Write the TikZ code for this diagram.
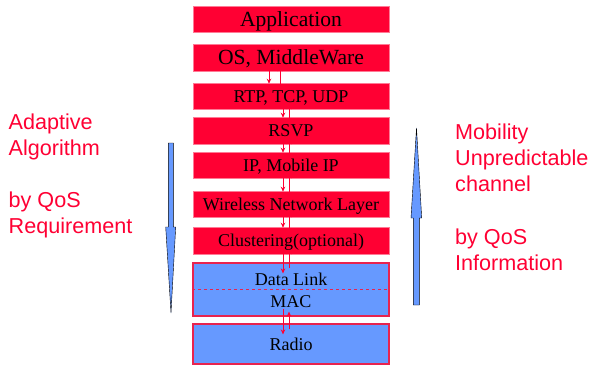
\documentclass[tikz,border=0pt]{standalone}
\usepackage{fontspec}
\setmainfont{Liberation Serif}
\newfontfamily\labelfont{Liberation Sans}
\usetikzlibrary{arrows.meta}

\definecolor{layerred}{HTML}{FF0033}
\definecolor{layerblue}{HTML}{6699FF}
\definecolor{edgepink}{HTML}{FF7A95}
\definecolor{edgered}{HTML}{E8234F}

\tikzset{
  layer/.style={fill=layerred, draw=edgepink, line width=0.6pt, minimum width=196pt,
    inner sep=0pt, font=\fontsize{18}{20}\selectfont, text height=12pt, text depth=0pt},
  biglayer/.style={layer, font=\fontsize{21.6}{24}\selectfont, text height=14.3pt},
  phylayer/.style={layer, fill=layerblue, draw=edgered, line width=1.2pt},
  flow/.style={color=layerred, line width=1pt, -{Stealth[length=5pt,width=4.5pt]}},
  bigarrow/.style={fill=layerblue, draw=black, line width=0.4pt},
  side/.style={text=layerred, font=\labelfont\fontsize{21.6}{26}\selectfont,
    anchor=base west, inner sep=0pt}
}

\begin{document}
\begin{tikzpicture}[x=1pt, y=-1pt]
  \useasboundingbox (0,0) rectangle (592,365);

  % protocol stack
  \node[biglayer, minimum height=26pt] (app) at (291,19) {Application};
  \node[biglayer, minimum height=27pt] (os) at (291,57.5) {OS, MiddleWare};
  \node[layer, minimum height=26pt] (rtp) at (291,96) {RTP, TCP, UDP};
  \node[layer, minimum height=27pt] (rsvp) at (291,130.5) {RSVP};
  \node[layer, minimum height=26pt] (ip) at (291,165) {IP, Mobile IP};
  \node[layer, minimum height=26pt] (wnl) at (291,204) {Wireless Network Layer};
  \node[layer, minimum height=27pt] (clus) at (291,240.5) {Clustering(optional)};
  \node[phylayer, minimum height=53pt] (dlmac) at (291,289.5) {};
  \node[phylayer, minimum height=40pt] (radio) at (291,344) {Radio};

  \draw[edgered, dashed, line width=0.8pt] (dlmac.west) -- (dlmac.east);
  \node[font=\fontsize{18}{20}\selectfont, text height=12pt, text depth=0pt] (dl) at (291,279) {Data Link};
  \node[font=\fontsize{18}{20}\selectfont, text height=12pt, text depth=0pt] (mac) at (291,301) {MAC};

  % down / up between layers
  \foreach \up/\down/\dx/\ux/\dy in {os/rtp/-22/-11/-1, rtp/rsvp/-8/-2/-1, rsvp/ip/-8/-2/-1,
      ip/wnl/-8/-2/-1, wnl/clus/-8/-2/-1, clus/dlmac/-8/-2/-11, dlmac/radio/-8/-2/-11}{
    \draw[flow] ([xshift=\dx pt, yshift=8pt]\up.south) -- ([xshift=\dx pt, yshift=\dy pt]\down.north);
    \draw[flow] ([xshift=\ux pt, yshift=-6pt]\down.north) -- ([xshift=\ux pt, yshift=5pt]\up.south);
  }

  % big arrows
  \draw[bigarrow] (168.3,143) -- (173.3,143) -- (173.3,227) -- (175.7,227) -- (171,313)
    -- (165.7,227) -- (168.3,227) -- cycle;
  \draw[bigarrow] (413.3,305) -- (419.3,305) -- (419.3,218) -- (421.7,218) -- (416.5,128)
    -- (411,218) -- (413.3,218) -- cycle;

  % side texts
  \node[side] (adapt) at (8.5,129) {Adaptive};
  \node[side] (algo) at (8.5,155) {Algorithm};
  \node[side] (byreq) at (8.5,207) {by QoS};
  \node[side] (req) at (8.5,233) {Requirement};

  \node[side] (mob) at (455,139) {Mobility};
  \node[side] (unpred) at (455,165) {Unpredictable};
  \node[side] (chan) at (455,191) {channel};
  \node[side] (byinfo) at (455,244) {by QoS};
  \node[side] (info) at (455,270) {Information};
\end{tikzpicture}
\end{document}
